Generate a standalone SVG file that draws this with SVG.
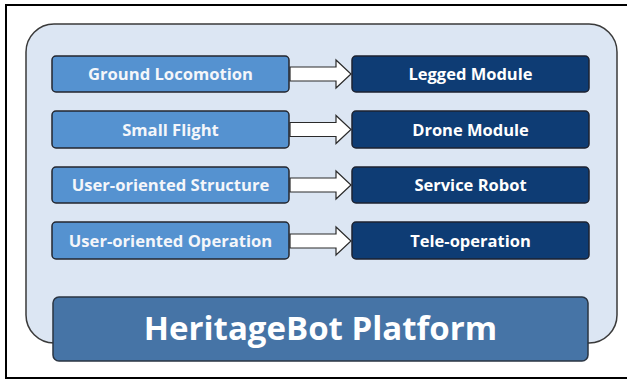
<svg xmlns="http://www.w3.org/2000/svg" width="627" height="380" viewBox="0 0 627 380">
<style>
.frame{fill:none;stroke:#000;stroke-width:2}
.cont{fill:#dce6f3;stroke:#3a3a3a;stroke-width:1.5}
.lbox{fill:#5592d0;stroke:#23262e;stroke-width:1.5}
.rbox{fill:#0e3c74;stroke:#1c2230;stroke-width:1.5}
.plat{fill:#4674a6;stroke:#2a3442;stroke-width:1.5}
.arrow{fill:#fff;stroke:#2a2a2a;stroke-width:1.2;stroke-linejoin:miter}
.lt{font-family:"Open Sans",sans-serif;font-weight:bold;font-size:16.6px;fill:#f4f6fa;text-anchor:middle}
.rt{font-family:"Open Sans",sans-serif;font-weight:bold;font-size:16.5px;fill:#ffffff;text-anchor:middle}
.pt{font-family:"Open Sans",sans-serif;font-weight:bold;font-size:33px;fill:#ffffff;text-anchor:middle}
</style>
<g id="frame">
<path class="frame" d="M627,5 H6 V378 H627"/>
</g>
<g id="container">
<rect class="cont" x="26" y="24" width="591" height="319" rx="28"/>
</g>
<g id="connectors">
<path class="arrow" d="M290,67 H336 V60 L351,74 L336,88 V81 H290 Z"/>
<path class="arrow" d="M290,122.5 H336 V115.5 L351,129.5 L336,143.5 V136.5 H290 Z"/>
<path class="arrow" d="M290,178 H336 V171 L351,185 L336,199 V192 H290 Z"/>
<path class="arrow" d="M290,234 H336 V227 L351,241 L336,255 V248 H290 Z"/>
</g>
<g id="n-ground">
<rect class="lbox" x="52" y="56" width="237" height="36" rx="4"/>
<text class="lt" x="170.5" y="80">Ground Locomotion</text>
</g>
<g id="n-flight">
<rect class="lbox" x="52" y="111" width="237" height="37" rx="4"/>
<text class="lt" x="170.5" y="135.5">Small Flight</text>
</g>
<g id="n-structure">
<rect class="lbox" x="52" y="167" width="237" height="36" rx="4"/>
<text class="lt" x="170.5" y="191">User-oriented Structure</text>
</g>
<g id="n-operation">
<rect class="lbox" x="52" y="222" width="237" height="37" rx="4"/>
<text class="lt" x="170.5" y="246.5">User-oriented Operation</text>
</g>
<g id="n-legged">
<rect class="rbox" x="352" y="56" width="237" height="36" rx="4"/>
<text class="rt" x="470.5" y="80">Legged Module</text>
</g>
<g id="n-drone">
<rect class="rbox" x="352" y="111" width="237" height="37" rx="4"/>
<text class="rt" x="470.5" y="135.5">Drone Module</text>
</g>
<g id="n-service">
<rect class="rbox" x="352" y="167" width="237" height="36" rx="4"/>
<text class="rt" x="470.5" y="191">Service Robot</text>
</g>
<g id="n-tele">
<rect class="rbox" x="352" y="222" width="237" height="37" rx="4"/>
<text class="rt" x="470.5" y="246.5">Tele-operation</text>
</g>
<g id="n-platform">
<rect class="plat" x="53" y="297" width="535" height="64" rx="6"/>
<text class="pt" x="320.5" y="340">HeritageBot Platform</text>
</g>
</svg>
